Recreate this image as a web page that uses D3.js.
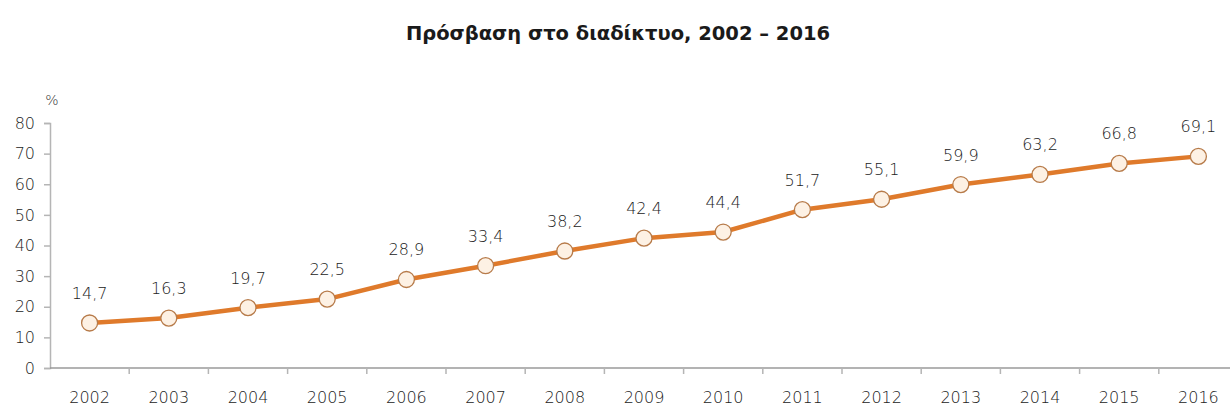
<!DOCTYPE html>
<html>
<head>
<meta charset="utf-8">
<script src="https://cdn.jsdelivr.net/npm/d3@7/dist/d3.min.js"></script>
<style>
  html, body { margin: 0; padding: 0; background: #fff; }
  svg { display: block; }
</style>
</head>
<body>
<svg id="chart" width="1230" height="412"></svg>
<script>
// Internet access share by year
const years = ["2002","2003","2004","2005","2006","2007","2008","2009","2010","2011","2012","2013","2014","2015","2016"];
const values = [14.7, 16.3, 19.7, 22.5, 28.9, 33.4, 38.2, 42.4, 44.4, 51.7, 55.1, 59.9, 63.2, 66.8, 69.1];
const yTicks = [0, 10, 20, 30, 40, 50, 60, 70, 80];
const titleText = "Πρόσβαση στο διαδίκτυο, 2002 – 2016";

const svg = d3.select("#chart");
const font = "'DejaVu Sans', sans-serif";
const labelWeight = 200;

const plotLeft = 50, plotRight = 1238, plotTop = 123, plotBottom = 368;

const x = d3.scaleBand().domain(years).range([plotLeft, plotRight]).paddingInner(0).paddingOuter(0);
const y = d3.scaleLinear().domain([0, 80]).range([plotBottom, plotTop]);

// Title
svg.append("text")
  .attr("x", 618).attr("y", 40)
  .attr("text-anchor", "middle")
  .attr("font-family", "'DejaVu Sans', sans-serif")
  .attr("font-weight", "bold")
  .attr("font-size", 19.5)
  .attr("fill", "#1a1a1a")
  .text(titleText);

// Y axis
const yAxis = d3.axisLeft(y).tickValues(yTicks).tickSize(6).tickPadding(9);
const gy = svg.append("g").attr("transform", `translate(${plotLeft},0)`).call(yAxis);
gy.select(".domain").attr("stroke", "#b5b5b5").attr("stroke-width", 1.5);
gy.selectAll(".tick line").attr("stroke", "#b5b5b5").attr("stroke-width", 1.5);
gy.selectAll(".tick text")
  .attr("font-family", font).attr("font-weight", labelWeight)
  .attr("font-size", 16).attr("fill", "#222");

svg.append("text")
  .attr("x", 52).attr("y", 105)
  .attr("text-anchor", "middle")
  .attr("font-family", font).attr("font-weight", labelWeight)
  .attr("font-size", 14).attr("fill", "#333")
  .text("%");

// X axis: baseline with tick marks between categories
const gx = svg.append("g").attr("transform", `translate(0,${plotBottom})`);
gx.append("line")
  .attr("x1", plotLeft).attr("x2", plotRight)
  .attr("stroke", "#9a9a9a").attr("stroke-width", 1.5);
gx.selectAll("line.sep")
  .data(years.slice(1))
  .join("line")
  .attr("class", "sep")
  .attr("x1", d => x(d)).attr("x2", d => x(d))
  .attr("y1", 0).attr("y2", 6)
  .attr("stroke", "#b5b5b5").attr("stroke-width", 1.5);
gx.selectAll("text.year")
  .data(years)
  .join("text")
  .attr("class", "year")
  .attr("x", d => x(d) + x.bandwidth() / 2)
  .attr("y", 35)
  .attr("text-anchor", "middle")
  .attr("font-family", font).attr("font-weight", labelWeight)
  .attr("font-size", 16).attr("fill", "#222")
  .text(d => d);

// Line
const cx = (d, i) => x(years[i]) + x.bandwidth() / 2;
const line = d3.line().x((d, i) => cx(d, i)).y(d => y(d));
svg.append("path")
  .datum(values)
  .attr("d", line)
  .attr("fill", "none")
  .attr("stroke", "#df7a2b")
  .attr("stroke-width", 4.5)
  .attr("stroke-linejoin", "round");

// Markers
svg.selectAll("circle.pt")
  .data(values)
  .join("circle")
  .attr("class", "pt")
  .attr("cx", (d, i) => cx(d, i))
  .attr("cy", d => y(d))
  .attr("r", 8)
  .attr("fill", "#fdf1e4")
  .attr("stroke", "#b77b4a")
  .attr("stroke-width", 1.3);

// Value labels
svg.selectAll("text.val")
  .data(values)
  .join("text")
  .attr("class", "val")
  .attr("x", (d, i) => cx(d, i))
  .attr("y", d => y(d) - 24)
  .attr("text-anchor", "middle")
  .attr("font-family", font).attr("font-weight", labelWeight)
  .attr("font-size", 16).attr("fill", "#222")
  .text(d => d.toFixed(1).replace(".", ","));
</script>
</body>
</html>
